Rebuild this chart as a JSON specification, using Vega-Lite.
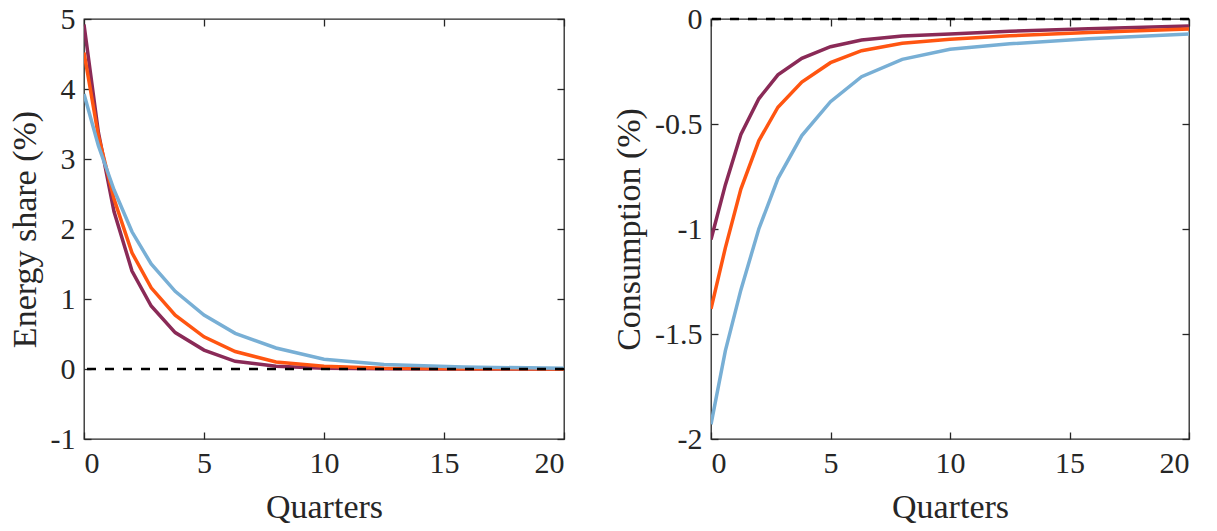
{
  "$schema": "https://vega.github.io/schema/vega-lite/v6.json",
  "padding": {"left": 7, "top": 3, "right": 10, "bottom": 2},
  "spacing": 45,
  "config": {
    "font": "Liberation Serif",
    "style": {"guide-label": {"font": "Liberation Serif", "fontSize": 30}, "guide-title": {"font": "Liberation Serif"}},
    "view": {"stroke": "#262626", "strokeWidth": 1.3},
    "axis": {
      "domain": false, "grid": false,
      "tickColor": "#262626", "tickSize": -7, "tickWidth": 1.3,
      "labelFont": "Liberation Serif", "labelFontSize": 30, "labelColor": "#262626",
      "titleFont": "Liberation Serif", "titleFontSize": 34, "titleFontWeight": "normal", "titleColor": "#262626",
      "labelPadding": 16
    }
  },
  "datasets": {
    "lines": [
      {"panel": "L", "s": "a", "x": 0, "y": 4.92}, {"panel": "L", "s": "a", "x": 0.6, "y": 3.38}, {"panel": "L", "s": "a", "x": 1.25, "y": 2.25}, {"panel": "L", "s": "a", "x": 2, "y": 1.40}, {"panel": "L", "s": "a", "x": 2.8, "y": 0.90}, {"panel": "L", "s": "a", "x": 3.8, "y": 0.52}, {"panel": "L", "s": "a", "x": 5, "y": 0.27}, {"panel": "L", "s": "a", "x": 6.3, "y": 0.11}, {"panel": "L", "s": "a", "x": 8, "y": 0.04}, {"panel": "L", "s": "a", "x": 10, "y": 0.012}, {"panel": "L", "s": "a", "x": 12.5, "y": 0.003}, {"panel": "L", "s": "a", "x": 15.8, "y": 0.0}, {"panel": "L", "s": "a", "x": 20, "y": 0.0},
      {"panel": "L", "s": "b", "x": 0, "y": 4.52}, {"panel": "L", "s": "b", "x": 0.6, "y": 3.33}, {"panel": "L", "s": "b", "x": 1.25, "y": 2.43}, {"panel": "L", "s": "b", "x": 2, "y": 1.66}, {"panel": "L", "s": "b", "x": 2.8, "y": 1.16}, {"panel": "L", "s": "b", "x": 3.8, "y": 0.77}, {"panel": "L", "s": "b", "x": 5, "y": 0.46}, {"panel": "L", "s": "b", "x": 6.3, "y": 0.25}, {"panel": "L", "s": "b", "x": 8, "y": 0.10}, {"panel": "L", "s": "b", "x": 10, "y": 0.04}, {"panel": "L", "s": "b", "x": 12.5, "y": 0.012}, {"panel": "L", "s": "b", "x": 15.8, "y": 0.004}, {"panel": "L", "s": "b", "x": 20, "y": 0.001},
      {"panel": "L", "s": "c", "x": 0, "y": 3.93}, {"panel": "L", "s": "c", "x": 0.6, "y": 3.19}, {"panel": "L", "s": "c", "x": 1.25, "y": 2.56}, {"panel": "L", "s": "c", "x": 2, "y": 1.96}, {"panel": "L", "s": "c", "x": 2.8, "y": 1.50}, {"panel": "L", "s": "c", "x": 3.8, "y": 1.11}, {"panel": "L", "s": "c", "x": 5, "y": 0.77}, {"panel": "L", "s": "c", "x": 6.3, "y": 0.51}, {"panel": "L", "s": "c", "x": 8, "y": 0.30}, {"panel": "L", "s": "c", "x": 10, "y": 0.14}, {"panel": "L", "s": "c", "x": 12.5, "y": 0.065}, {"panel": "L", "s": "c", "x": 15.8, "y": 0.028}, {"panel": "L", "s": "c", "x": 20, "y": 0.01},
      {"panel": "R", "s": "a", "x": 0, "y": -1.05}, {"panel": "R", "s": "a", "x": 0.6, "y": -0.79}, {"panel": "R", "s": "a", "x": 1.25, "y": -0.55}, {"panel": "R", "s": "a", "x": 2, "y": -0.38}, {"panel": "R", "s": "a", "x": 2.8, "y": -0.266}, {"panel": "R", "s": "a", "x": 3.8, "y": -0.187}, {"panel": "R", "s": "a", "x": 5, "y": -0.132}, {"panel": "R", "s": "a", "x": 6.3, "y": -0.10}, {"panel": "R", "s": "a", "x": 8, "y": -0.081}, {"panel": "R", "s": "a", "x": 10, "y": -0.071}, {"panel": "R", "s": "a", "x": 12.5, "y": -0.058}, {"panel": "R", "s": "a", "x": 15.8, "y": -0.046}, {"panel": "R", "s": "a", "x": 20, "y": -0.033},
      {"panel": "R", "s": "b", "x": 0, "y": -1.38}, {"panel": "R", "s": "b", "x": 0.6, "y": -1.09}, {"panel": "R", "s": "b", "x": 1.25, "y": -0.81}, {"panel": "R", "s": "b", "x": 2, "y": -0.58}, {"panel": "R", "s": "b", "x": 2.8, "y": -0.42}, {"panel": "R", "s": "b", "x": 3.8, "y": -0.30}, {"panel": "R", "s": "b", "x": 5, "y": -0.208}, {"panel": "R", "s": "b", "x": 6.3, "y": -0.151}, {"panel": "R", "s": "b", "x": 8, "y": -0.116}, {"panel": "R", "s": "b", "x": 10, "y": -0.097}, {"panel": "R", "s": "b", "x": 12.5, "y": -0.08}, {"panel": "R", "s": "b", "x": 15.8, "y": -0.064}, {"panel": "R", "s": "b", "x": 20, "y": -0.048},
      {"panel": "R", "s": "c", "x": 0, "y": -1.93}, {"panel": "R", "s": "c", "x": 0.6, "y": -1.58}, {"panel": "R", "s": "c", "x": 1.25, "y": -1.29}, {"panel": "R", "s": "c", "x": 2, "y": -1.0}, {"panel": "R", "s": "c", "x": 2.8, "y": -0.76}, {"panel": "R", "s": "c", "x": 3.8, "y": -0.555}, {"panel": "R", "s": "c", "x": 5, "y": -0.394}, {"panel": "R", "s": "c", "x": 6.3, "y": -0.275}, {"panel": "R", "s": "c", "x": 8, "y": -0.192}, {"panel": "R", "s": "c", "x": 10, "y": -0.144}, {"panel": "R", "s": "c", "x": 12.5, "y": -0.118}, {"panel": "R", "s": "c", "x": 15.8, "y": -0.094}, {"panel": "R", "s": "c", "x": 20, "y": -0.071}
    ]
  },
  "hconcat": [
    {
      "width": 480, "height": 420,
      "resolve": {"axis": {"x": "independent", "y": "independent"}},
      "layer": [
        {
          "data": {"name": "lines"},
          "transform": [{"filter": "datum.panel == 'L'"}],
          "mark": {"type": "line", "strokeWidth": 3.5, "clip": true},
          "encoding": {
            "x": {"field": "x", "type": "quantitative", "scale": {"domain": [0, 20], "nice": false},
              "axis": {"values": [0, 5, 10, 15, 20], "title": "Quarters", "titlePadding": 12, "labelFont": "Liberation Serif"}},
            "y": {"field": "y", "type": "quantitative", "scale": {"domain": [-1, 5], "nice": false},
              "axis": {"values": [-1, 0, 1, 2, 3, 4, 5], "title": "Energy share (%)", "titlePadding": 8, "labelFont": "Liberation Serif",
                "labelExpr": "datum.value < 0 ? '-' + format(-datum.value, '') : format(datum.value, '')"}},
            "color": {"field": "s", "type": "nominal", "scale": {"domain": ["a", "b", "c"], "range": ["#8a2a57", "#ff5511", "#78afd5"]}, "legend": null}
          }
        },
        {
          "data": {"values": [{"v": 0}]},
          "mark": {"type": "rule", "color": "black", "strokeWidth": 2.5, "strokeDash": [9, 9]},
          "encoding": {
            "y": {"field": "v", "type": "quantitative", "axis": {"orient": "right", "values": [-1, 0, 1, 2, 3, 4, 5], "labels": false, "title": null}}
          }
        },
        {
          "data": {"values": [{"v": 0}]},
          "mark": {"type": "point", "opacity": 0},
          "encoding": {
            "x": {"field": "v", "type": "quantitative", "axis": {"orient": "top", "values": [0, 5, 10, 15, 20], "labels": false, "title": null}}
          }
        }
      ]
    },
    {
      "width": 478, "height": 420,
      "resolve": {"axis": {"x": "independent", "y": "independent"}},
      "layer": [
        {
          "data": {"name": "lines"},
          "transform": [{"filter": "datum.panel == 'R'"}],
          "mark": {"type": "line", "strokeWidth": 3.5, "clip": true},
          "encoding": {
            "x": {"field": "x", "type": "quantitative", "scale": {"domain": [0, 20], "nice": false},
              "axis": {"values": [0, 5, 10, 15, 20], "title": "Quarters", "titlePadding": 12, "labelFont": "Liberation Serif"}},
            "y": {"field": "y", "type": "quantitative", "scale": {"domain": [-2, 0], "nice": false},
              "axis": {"values": [-2, -1.5, -1, -0.5, 0], "title": "Consumption (%)", "titlePadding": 8, "labelFont": "Liberation Serif",
                "labelExpr": "datum.value < 0 ? '-' + format(-datum.value, '') : format(datum.value, '')"}},
            "color": {"field": "s", "type": "nominal", "scale": {"domain": ["a", "b", "c"], "range": ["#8a2a57", "#ff5511", "#78afd5"]}, "legend": null}
          }
        },
        {
          "data": {"values": [{"v": 0}]},
          "mark": {"type": "rule", "color": "black", "strokeWidth": 2.5, "strokeDash": [9, 9]},
          "encoding": {
            "y": {"field": "v", "type": "quantitative", "axis": {"orient": "right", "values": [-2, -1.5, -1, -0.5, 0], "labels": false, "title": null}}
          }
        },
        {
          "data": {"values": [{"v": 0}]},
          "mark": {"type": "point", "opacity": 0},
          "encoding": {
            "x": {"field": "v", "type": "quantitative", "axis": {"orient": "top", "values": [0, 5, 10, 15, 20], "labels": false, "title": null}}
          }
        }
      ]
    }
  ]
}
